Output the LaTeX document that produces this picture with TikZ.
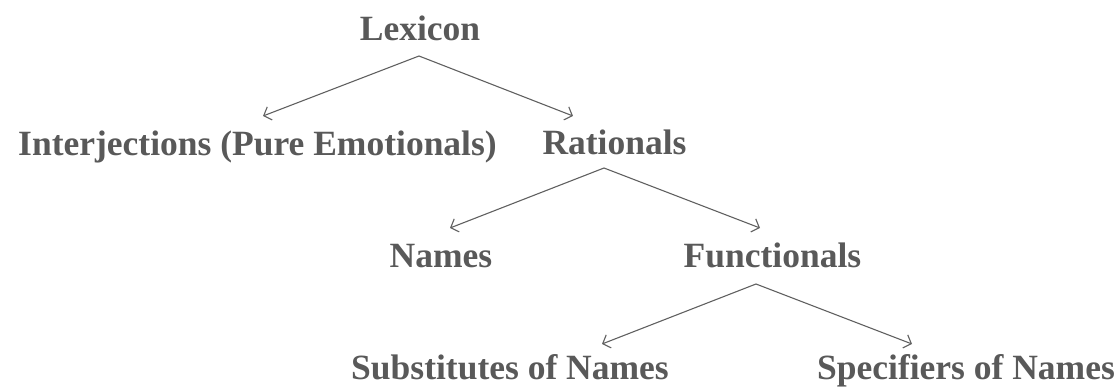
\documentclass[tikz,border=0pt]{standalone}
\usepackage{fontspec}
\setmainfont{Liberation Serif}
\usetikzlibrary{arrows.meta}
\definecolor{txtgray}{HTML}{595959}
\definecolor{arrgray}{HTML}{606060}
\begin{document}
\begin{tikzpicture}[x=1pt,y=1pt,
  lbl/.style={anchor=base,inner sep=0pt,text=txtgray,font=\fontsize{35.5}{40}\selectfont\bfseries},
  arr/.style={draw=arrgray,line width=1.1pt,-{Straight Barb[length=6.5pt,width=14pt,line width=1.1pt]}}]
\useasboundingbox (0,0) rectangle (1120,388);
\node[lbl] (lex) at (420,347) {Lexicon};
\node[lbl] (int) at (257.5,232) {Interjections (Pure Emotionals)};
\node[lbl] (rat) at (614.5,233) {Rationals};
\node[lbl] (nam) at (441,120) {Names};
\node[lbl] (fun) at (772.5,120) {Functionals};
\node[lbl] (sub) at (510,8) {Substitutes of Names};
\node[lbl] (spe) at (966,8) {Specifiers of Names};
\coordinate (lexA) at (419,332);
\coordinate (intT) at (263,272);
\coordinate (ratT) at (573,272);
\coordinate (ratA) at (604,220);
\coordinate (namT) at (450,160);
\coordinate (funT) at (760,160);
\coordinate (funA) at (756,104);
\coordinate (subT) at (602,44);
\coordinate (speT) at (912,44);
\draw[arr] (lexA) -- (intT);
\draw[arr] (lexA) -- (ratT);
\draw[arr] (ratA) -- (namT);
\draw[arr] (ratA) -- (funT);
\draw[arr] (funA) -- (subT);
\draw[arr] (funA) -- (speT);
\end{tikzpicture}
\end{document}
